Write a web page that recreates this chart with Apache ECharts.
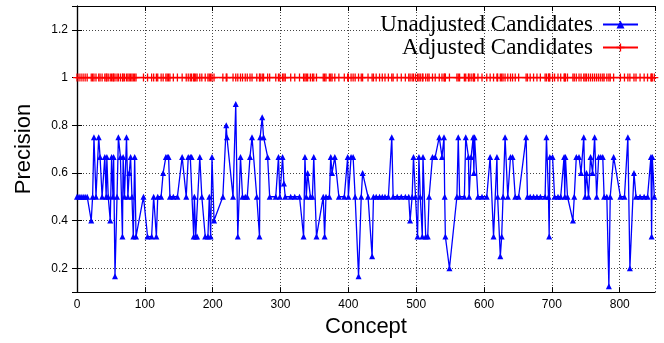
<!DOCTYPE html>
<html>
<head>
<meta charset="utf-8">
<script src="https://cdn.jsdelivr.net/npm/echarts@6/dist/echarts.min.js"></script>
<style>
  html, body { margin: 0; padding: 0; background: #fff; }
  #chart { width: 664px; height: 343px; }
</style>
</head>
<body>
<div id="chart"></div>
<script>
const concepts = [
  0, 3, 6, 9, 12, 15, 21, 23, 25, 28,
  32, 34, 37, 41, 43, 44, 46, 49, 51, 53,
  54, 56, 59, 61, 64, 67, 68, 70, 73, 75,
  77, 79, 81, 83, 85, 87, 98, 104, 110, 113,
  117, 119, 124, 127, 131, 133, 135, 137, 142, 148,
  155, 161, 164, 167, 169, 172, 173, 175, 177, 181,
  184, 189, 193, 195, 197, 199, 202, 215, 220, 221,
  230, 234, 237, 241, 244, 248, 251, 255, 258, 265,
  269, 270, 273, 275, 281, 284, 293, 297, 299, 303,
  305, 307, 315, 321, 328, 334, 336, 338, 340, 344,
  347, 349, 353, 363, 365, 367, 372, 374, 376, 380,
  386, 394, 399, 400, 404, 407, 410, 415, 419, 421,
  429, 435, 437, 441, 446, 450, 454, 459, 464, 466,
  472, 478, 484, 489, 491, 494, 496, 499, 502, 504,
  506, 509, 510, 514, 517, 519, 524, 528, 534, 538,
  541, 542, 543, 549, 560, 562, 564, 571, 573, 577,
  578, 581, 584, 585, 586, 591, 597, 604, 609, 614,
  619, 620, 624, 626, 628, 631, 635, 639, 642, 646,
  651, 662, 664, 668, 673, 678, 683, 690, 692, 695,
  696, 697, 701, 704, 709, 713, 718, 719, 720, 723,
  731, 733, 736, 740, 743, 747, 749, 751, 754, 757,
  760, 763, 766, 769, 772, 775, 777, 781, 784, 786,
  791, 801, 807, 812, 815, 821, 824, 830, 836, 841,
  846, 847, 848, 851
];

const unadjusted = [
  0.5, 0.5, 0.5, 0.5, 0.5, 0.5, 0.4, 0.5, 0.75, 0.5,
  0.75, 0.667, 0.5, 0.667, 0.5, 0.667, 0.5, 0.4, 0.667, 0.5,
  0.667, 0.167, 0.5, 0.75, 0.667, 0.333, 0.667, 0.5, 0.75, 0.5,
  0.6, 0.667, 0.5, 0.333, 0.667, 0.333, 0.5, 0.333, 0.333, 0.5,
  0.333, 0.5, 0.5, 0.6, 0.667, 0.667, 0.667, 0.5, 0.5, 0.5,
  0.667, 0.5, 0.667, 0.667, 0.667, 0.333, 0.5, 0.333, 0.333, 0.667,
  0.5, 0.333, 0.333, 0.5, 0.333, 0.667, 0.4, 0.5, 0.8, 0.75,
  0.5, 0.889, 0.333, 0.667, 0.5, 0.5, 0.5, 0.667, 0.75, 0.5,
  0.333, 0.75, 0.833, 0.75, 0.667, 0.5, 0.5, 0.667, 0.5, 0.667,
  0.556, 0.5, 0.5, 0.5, 0.5, 0.333, 0.667, 0.5, 0.6, 0.5,
  0.5, 0.667, 0.333, 0.5, 0.333, 0.5, 0.5, 0.667, 0.6, 0.667,
  0.5, 0.5, 0.667, 0.5, 0.667, 0.667, 0.5, 0.167, 0.5, 0.6,
  0.5, 0.25, 0.5, 0.5, 0.5, 0.5, 0.5, 0.5, 0.75, 0.5,
  0.5, 0.5, 0.5, 0.5, 0.4, 0.5, 0.667, 0.5, 0.333, 0.667,
  0.5, 0.333, 0.667, 0.333, 0.333, 0.5, 0.667, 0.667, 0.75, 0.667,
  0.75, 0.5, 0.333, 0.2, 0.5, 0.75, 0.5, 0.5, 0.75, 0.667,
  0.5, 0.667, 0.75, 0.6, 0.75, 0.5, 0.5, 0.5, 0.667, 0.333,
  0.667, 0.5, 0.25, 0.333, 0.5, 0.75, 0.5, 0.667, 0.667, 0.5,
  0.5, 0.75, 0.5, 0.5, 0.5, 0.5, 0.5, 0.5, 0.75, 0.5,
  0.333, 0.667, 0.667, 0.5, 0.5, 0.5, 0.667, 0.5, 0.667, 0.5,
  0.4, 0.5, 0.667, 0.667, 0.6, 0.75, 0.5, 0.6, 0.5, 0.667,
  0.6, 0.75, 0.5, 0.667, 0.667, 0.667, 0.5, 0.5, 0.125, 0.5,
  0.667, 0.5, 0.5, 0.75, 0.2, 0.6, 0.5, 0.5, 0.5, 0.5,
  0.667, 0.333, 0.667, 0.5
];

const adjusted = [
  1, 1, 1, 1, 1, 1, 1, 1, 1, 1,
  1, 1, 1, 1, 1, 1, 1, 1, 1, 1,
  1, 1, 1, 1, 1, 1, 1, 1, 1, 1,
  1, 1, 1, 1, 1, 1, 1, 1, 1, 1,
  1, 1, 1, 1, 1, 1, 1, 1, 1, 1,
  1, 1, 1, 1, 1, 1, 1, 1, 1, 1,
  1, 1, 1, 1, 1, 1, 1, 1, 1, 1,
  1, 1, 1, 1, 1, 1, 1, 1, 1, 1,
  1, 1, 1, 1, 1, 1, 1, 1, 1, 1,
  1, 1, 1, 1, 1, 1, 1, 1, 1, 1,
  1, 1, 1, 1, 1, 1, 1, 1, 1, 1,
  1, 1, 1, 1, 1, 1, 1, 1, 1, 1,
  1, 1, 1, 1, 1, 1, 1, 1, 1, 1,
  1, 1, 1, 1, 1, 1, 1, 1, 1, 1,
  1, 1, 1, 1, 1, 1, 1, 1, 1, 1,
  1, 1, 1, 1, 1, 1, 1, 1, 1, 1,
  1, 1, 1, 1, 1, 1, 1, 1, 1, 1,
  1, 1, 1, 1, 1, 1, 1, 1, 1, 1,
  1, 1, 1, 1, 1, 1, 1, 1, 1, 1,
  1, 1, 1, 1, 1, 1, 1, 1, 1, 1,
  1, 1, 1, 1, 1, 1, 1, 1, 1, 1,
  1, 1, 1, 1, 1, 1, 1, 1, 1, 1,
  1, 1, 1, 1, 1, 1, 1, 1, 1, 1,
  1, 1, 1, 1
];

const seriesNames = ["Unadjusted Candidates", "Adjusted Candidates"];
const xMax = 852;
const yMin = 0.1;
const yMax = 1.3;

// gnuplot style "+" point
const plusPath = "path://M0,4.2L10,4.2L10,5.8L0,5.8Z M4.2,0L5.8,0L5.8,10L4.2,10Z";
const frame = { show: true, lineStyle: { color: "#000", width: 1.2 } };
const inTicks = { show: true, inside: true, length: 5, lineStyle: { color: "#000" } };
const gridLine = { show: true, lineStyle: { color: "#444", type: [1, 2], width: 1 } };
const sans = "Liberation Sans";

const chart = echarts.init(document.getElementById("chart"), null, { renderer: "canvas" });

chart.setOption({
  animation: false,
  grid: { left: 77, right: 9, top: 6, bottom: 49 },
  legend: {
    orient: "vertical",
    align: "right",
    right: 25,
    top: 13,
    padding: 0,
    itemGap: 0,
    itemWidth: 35,
    itemHeight: 10,
    textStyle: {
      fontFamily: "Liberation Serif",
      fontSize: 23,
      lineHeight: 22,
      color: "#000",
      padding: [0, 5, 0, 0],
    },
    data: seriesNames,
  },
  xAxis: [
    {
      type: "value",
      min: 0,
      max: xMax,
      interval: 100,
      name: "Concept",
      nameLocation: "middle",
      nameGap: 20,
      nameTextStyle: { fontFamily: sans, fontSize: 22, color: "#000" },
      axisLine: frame,
      axisTick: inTicks,
      axisLabel: { showMaxLabel: false, fontFamily: sans, fontSize: 12, color: "#000", margin: 7 },
      splitLine: gridLine,
    },
    {
      type: "value",
      position: "top",
      min: 0,
      max: xMax,
      interval: 100,
      axisLine: frame,
      axisTick: inTicks,
      axisLabel: { show: false },
      splitLine: { show: false },
    },
  ],
  yAxis: [
    {
      type: "value",
      min: yMin,
      max: yMax,
      splitNumber: 6,
      name: "Precision",
      nameLocation: "middle",
      nameRotate: 90,
      nameGap: 42,
      nameTextStyle: { fontFamily: sans, fontSize: 22, color: "#000" },
      axisLine: frame,
      axisTick: inTicks,
      axisLabel: {
        showMinLabel: false,
        showMaxLabel: false,
        fontFamily: sans,
        fontSize: 12,
        color: "#000",
        margin: 9,
      },
      splitLine: gridLine,
    },
    {
      type: "value",
      position: "right",
      min: yMin,
      max: yMax,
      splitNumber: 6,
      axisLine: frame,
      axisTick: inTicks,
      axisLabel: { show: false },
      splitLine: { show: false },
    },
  ],
  series: [
    {
      name: seriesNames[0],
      type: "line",
      data: concepts.map((c, i) => [c, unadjusted[i]]),
      symbol: "triangle",
      symbolSize: 6,
      lineStyle: { color: "#0000ff", width: 1.3 },
      itemStyle: { color: "#0000ff" },
    },
    {
      name: seriesNames[1],
      type: "line",
      data: concepts.map((c, i) => [c, adjusted[i]]),
      symbol: plusPath,
      symbolSize: 8,
      lineStyle: { color: "#ff0000", width: 1.6 },
      itemStyle: { color: "#ff0000" },
    },
  ],
});
</script>
</body>
</html>
